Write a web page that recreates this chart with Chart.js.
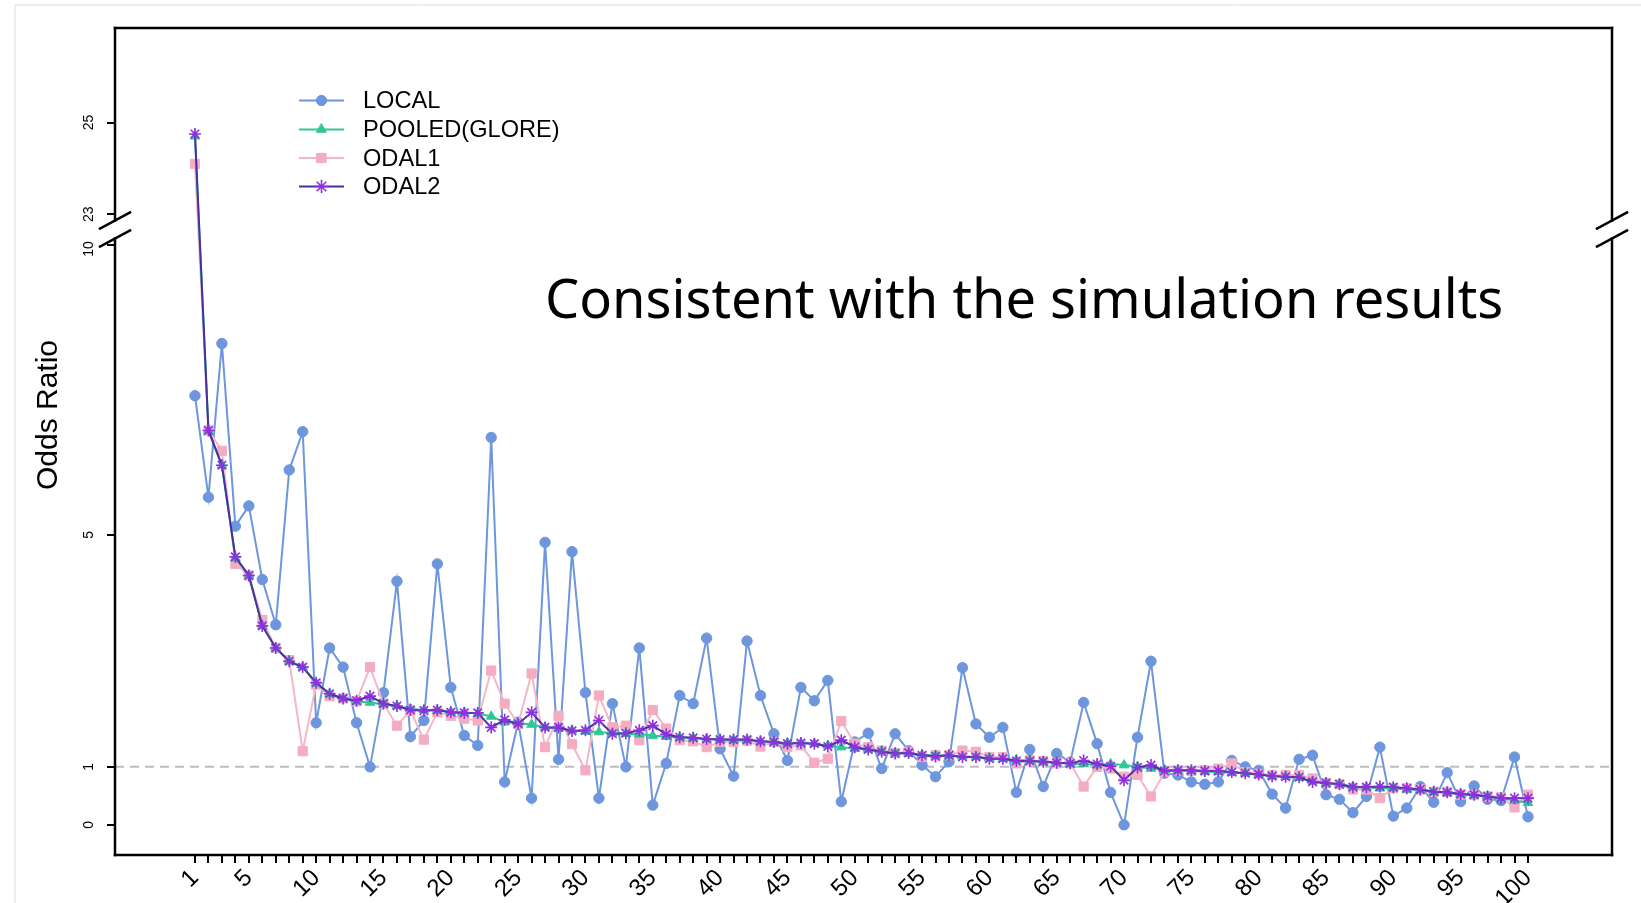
<!DOCTYPE html>
<html>
<head>
<meta charset="utf-8">
<title>Odds Ratio by site</title>
<script src="https://cdn.jsdelivr.net/npm/chart.js@4.4.1/dist/chart.umd.min.js"></script>
<style>
    html, body { margin: 0; padding: 0; background: #fff; }
    #wrap { position: relative; width: 1641px; height: 903px; }
</style>
</head>
<body>
<div id="wrap"><canvas id="orChart" width="1641" height="903"></canvas></div>
<script>
// ── DATA ──────────────────────────────────────────────────────────────────────
const SITE_INDEX = Array.from({ length: 100 }, (_, i) => i + 1);
const X_TICK_LABELS = [1, 5, 10, 15, 20, 25, 30, 35, 40, 45, 50, 55, 60, 65, 70, 75, 80, 85, 90, 95, 100];
const Y_TICKS = [0, 1, 5, 10, 23, 25];

const LOCAL = [
    7.4, 5.65, 8.3, 5.15, 5.5, 4.23, 3.45, 6.12, 6.78, 1.76,
    3.05, 2.72, 1.76, 1.0, 2.28, 4.2, 1.52, 1.8, 4.5, 2.37,
    1.54, 1.37, 6.68, 0.74, 1.77, 0.46, 4.87, 1.13, 4.71, 2.28,
    0.46, 2.09, 1.0, 3.05, 0.34, 1.06, 2.23, 2.09, 3.22, 1.31,
    0.84, 3.17, 2.23, 1.57, 1.11, 2.37, 2.14, 2.49, 0.4, 1.43,
    1.58, 0.97, 1.57, 1.28, 1.03, 0.83, 1.09, 2.71, 1.74, 1.51,
    1.68, 0.56, 1.3, 0.66, 1.23, 1.08, 2.11, 1.4, 0.56, 0.0,
    1.51, 2.82, 0.89, 0.86, 0.74, 0.7, 0.74, 1.11, 1.0, 0.94,
    0.53, 0.29, 1.13, 1.2, 0.52, 0.44, 0.21, 0.49, 1.34, 0.15,
    0.29, 0.66, 0.39, 0.9, 0.4, 0.67, 0.44, 0.42, 1.17, 0.14,
];
const POOLED = [
    24.7, 6.8, 6.2, 4.6, 4.3, 3.43, 3.05, 2.82, 2.72, 2.44,
    2.26, 2.18, 2.13, 2.11, 2.08, 2.05, 2.0, 1.98, 1.97, 1.95,
    1.94, 1.92, 1.87, 1.77, 1.75, 1.73, 1.68, 1.66, 1.63, 1.61,
    1.6, 1.58, 1.57, 1.56, 1.54, 1.52, 1.51, 1.5, 1.48, 1.47,
    1.46, 1.46, 1.44, 1.43, 1.41, 1.41, 1.4, 1.37, 1.34, 1.31,
    1.3, 1.27, 1.24, 1.23, 1.21, 1.2, 1.19, 1.18, 1.17, 1.15,
    1.14, 1.12, 1.11, 1.09, 1.08, 1.05, 1.05, 1.03, 1.05, 1.03,
    1.0, 0.97, 0.95, 0.94, 0.93, 0.92, 0.91, 0.9, 0.89, 0.87,
    0.84, 0.83, 0.81, 0.75, 0.72, 0.7, 0.66, 0.65, 0.63, 0.63,
    0.61, 0.6, 0.57, 0.55, 0.53, 0.51, 0.49, 0.46, 0.42, 0.38,
];
const ODAL1 = [
    24.1, 6.8, 6.45, 4.5, 4.3, 3.53, 3.05, 2.84, 1.27, 2.42,
    2.22, 2.18, 2.13, 2.72, 2.09, 1.71, 1.97, 1.47, 1.94, 1.88,
    1.83, 1.8, 2.66, 2.09, 1.74, 2.61, 1.34, 1.88, 1.39, 0.94,
    2.23, 1.68, 1.71, 1.46, 1.98, 1.66, 1.46, 1.44, 1.34, 1.43,
    1.43, 1.45, 1.35, 1.43, 1.34, 1.37, 1.07, 1.14, 1.79, 1.4,
    1.34, 1.28, 1.24, 1.26, 1.17, 1.2, 1.2, 1.28, 1.26, 1.17,
    1.17, 1.06, 1.11, 1.1, 1.06, 1.06, 0.66, 1.0, 0.97, 0.83,
    0.86, 0.49, 0.91, 0.94, 0.93, 0.94, 0.97, 1.06, 0.91, 0.88,
    0.86, 0.86, 0.86, 0.8, 0.72, 0.7, 0.61, 0.61, 0.46, 0.63,
    0.63, 0.61, 0.57, 0.57, 0.52, 0.52, 0.49, 0.48, 0.3, 0.52,
];
const ODAL2 = [
    24.75, 6.8, 6.2, 4.62, 4.3, 3.43, 3.05, 2.82, 2.72, 2.45,
    2.26, 2.18, 2.14, 2.22, 2.09, 2.05, 1.98, 1.97, 1.98, 1.94,
    1.93, 1.93, 1.68, 1.81, 1.74, 1.94, 1.68, 1.68, 1.62, 1.63,
    1.8, 1.57, 1.58, 1.63, 1.71, 1.56, 1.51, 1.5, 1.48, 1.47,
    1.47, 1.47, 1.44, 1.43, 1.4, 1.41, 1.4, 1.35, 1.46, 1.34,
    1.3, 1.26, 1.23, 1.24, 1.2, 1.18, 1.2, 1.17, 1.17, 1.14,
    1.14, 1.1, 1.1, 1.09, 1.07, 1.06, 1.11, 1.05, 1.01, 0.77,
    0.99, 1.03, 0.93, 0.94, 0.94, 0.93, 0.93, 0.91, 0.89, 0.87,
    0.84, 0.83, 0.82, 0.74, 0.72, 0.7, 0.65, 0.65, 0.66, 0.65,
    0.63, 0.61, 0.57, 0.56, 0.53, 0.52, 0.49, 0.46, 0.46, 0.46,
];

// ── BROKEN Y AXIS (10 → 23) ───────────────────────────────────────────────────
const BREAK_LOW = 10;
const BREAK_HIGH = 23;
const BREAK_GAP = 0.53;     // axis units left empty between 10 and 23
const UPPER_SCALE = 0.79;   // the part above the break is a bit compressed

function toAxis(v) {
    return v <= BREAK_LOW ? v : BREAK_LOW + BREAK_GAP + (v - BREAK_HIGH) * UPPER_SCALE;
}

function series(values) {
    return SITE_INDEX.map((x, i) => ({ x, y: toAxis(values[i]) }));
}

const FONT = '"Liberation Sans", Arial, sans-serif';
Chart.defaults.font.family = FONT;
Chart.defaults.color = '#000';

const DATASETS = [
    { label: 'LOCAL', data: series(LOCAL), color: '#6d96dd', point: '#6d96dd', style: 'circle', radius: 5.2, order: 4 },
    { label: 'POOLED(GLORE)', data: series(POOLED), color: '#2ec795', point: '#2ec795', style: 'triangle', radius: 5.5, order: 2 },
    { label: 'ODAL1', data: series(ODAL1), color: '#f6b6c6', point: '#f4adc0', style: 'rect', radius: 6.5, order: 3 },
    { label: 'ODAL2', data: series(ODAL2), color: '#48309f', point: '#8e2fe0', style: 'star', radius: 6, order: 1 },
].map(d => ({
    label: d.label,
    data: d.data,
    order: d.order,
    borderColor: d.color,
    backgroundColor: d.point,
    pointBorderColor: d.point,
    pointBackgroundColor: d.point,
    pointStyle: d.style,
    pointRadius: d.radius,
    pointBorderWidth: d.style === 'star' ? 1.6 : 1,
    borderWidth: 2,
    tension: 0,
}));

// ── FRAME, BREAK MARKS, LABELS, LEGEND ────────────────────────────────────────
function line(ctx, x1, y1, x2, y2) {
    ctx.beginPath();
    ctx.moveTo(x1, y1);
    ctx.lineTo(x2, y2);
    ctx.stroke();
}

const framePlugin = {
    id: 'frame',
    beforeDatasetsDraw(chart) {
        const { ctx, chartArea: a, scales: { y } } = chart;
        const yOne = y.getPixelForValue(toAxis(1));
        ctx.save();
        ctx.strokeStyle = '#bdbdbd';
        ctx.lineWidth = 2;
        ctx.setLineDash([9, 6]);
        line(ctx, a.left, yOne, a.right, yOne);
        ctx.restore();
    },
    afterDraw(chart) {
        const { ctx, chartArea: a, scales: { y } } = chart;
        const yMid = (y.getPixelForValue(BREAK_LOW) + y.getPixelForValue(toAxis(BREAK_HIGH))) / 2;
        const gapTop = yMid - 9;
        const gapBot = yMid + 9;

        ctx.save();
        // faint screenshot border
        ctx.strokeStyle = '#dcdcdc';
        ctx.lineWidth = 1;
        line(ctx, 15, 5, 1641, 5);
        line(ctx, 15, 5, 15, 903);

        ctx.strokeStyle = '#000';
        ctx.lineWidth = 2.5;
        ctx.lineCap = 'square';
        line(ctx, a.left, a.top, a.right, a.top);
        line(ctx, a.left, a.bottom, a.right, a.bottom);
        [a.left, a.right].forEach(x => {
            line(ctx, x, a.top, x, gapTop);
            line(ctx, x, gapBot, x, a.bottom);
            line(ctx, x - 15, gapTop + 8, x + 15, gapTop - 8);
            line(ctx, x - 15, gapBot + 8, x + 15, gapBot - 8);
        });

        // y tick labels, written sideways like the original
        ctx.fillStyle = '#000';
        ctx.font = '14px ' + FONT;
        ctx.textAlign = 'center';
        ctx.textBaseline = 'middle';
        Y_TICKS.forEach(v => {
            ctx.save();
            ctx.translate(89, y.getPixelForValue(toAxis(v)) + (v === BREAK_LOW ? 4 : 0));
            ctx.rotate(-Math.PI / 2);
            ctx.fillText(String(v), 0, 0);
            ctx.restore();
        });

        // y title
        ctx.save();
        ctx.font = '30px ' + FONT;
        ctx.translate(49, 415);
        ctx.rotate(-Math.PI / 2);
        ctx.fillText('Odds Ratio', 0, 0);
        ctx.restore();

        // legend: line + marker + label
        const rowY = [100.5, 129.5, 158, 186.5];
        ctx.font = '23.6px ' + FONT;
        ctx.textAlign = 'left';
        chart.data.datasets.forEach((ds, i) => {
            const ly = rowY[i];
            ctx.strokeStyle = ds.borderColor;
            ctx.lineWidth = 2;
            line(ctx, 300, ly, 343, ly);
            ctx.fillStyle = ds.pointBackgroundColor;
            ctx.strokeStyle = ds.pointBorderColor;
            ctx.lineWidth = ds.pointBorderWidth;
            Chart.helpers.drawPoint(ctx, { pointStyle: ds.pointStyle, radius: ds.pointRadius, borderWidth: ds.pointBorderWidth, rotation: 0 }, 321.5, ly);
            ctx.fillStyle = '#000';
            ctx.fillText(ds.label, 363, ly + 1);
        });

        // overlay note
        const note = 'Consistent with the simulation results';
        ctx.font = '50px "Noto Sans", sans-serif';
        const size = 50 * 958 / ctx.measureText(note).width;
        ctx.font = size.toFixed(1) + 'px "Noto Sans", sans-serif';
        ctx.fillStyle = '#000';
        ctx.textBaseline = 'alphabetic';
        ctx.fillText(note, 545, 318);
        ctx.restore();
    },
};

// ── CHART ─────────────────────────────────────────────────────────────────────
new Chart(document.getElementById('orChart'), {
    type: 'line',
    data: { datasets: DATASETS },
    plugins: [framePlugin],
    options: {
        responsive: false,
        animation: false,
        layout: { padding: { top: 28, right: 29, left: 0, bottom: 0 } },
        plugins: { legend: { display: false }, tooltip: { enabled: false } },
        scales: {
            x: {
                type: 'linear',
                min: -4.94,
                max: 106.24,
                afterBuildTicks: s => { s.ticks = SITE_INDEX.map(v => ({ value: v })); },
                afterFit: s => { s.height = 48; },
                ticks: {
                    autoSkip: false,
                    minRotation: 45,
                    maxRotation: 45,
                    padding: 1,
                    color: '#000',
                    font: { size: 24 },
                    callback: v => (X_TICK_LABELS.includes(v) ? String(v) : ''),
                },
                grid: { drawOnChartArea: false, drawTicks: true, tickLength: 8, color: '#000', lineWidth: 2 },
                border: { display: false },
            },
            y: {
                type: 'linear',
                min: -0.52,
                max: 13.74,
                afterBuildTicks: s => { s.ticks = Y_TICKS.map(v => ({ value: toAxis(v) })); },
                afterFit: s => { s.width = 115; },
                ticks: { display: false },
                grid: { drawOnChartArea: false, drawTicks: true, tickLength: 8, color: '#000', lineWidth: 2 },
                border: { display: false },
            },
        },
    },
});
</script>
</body>
</html>
